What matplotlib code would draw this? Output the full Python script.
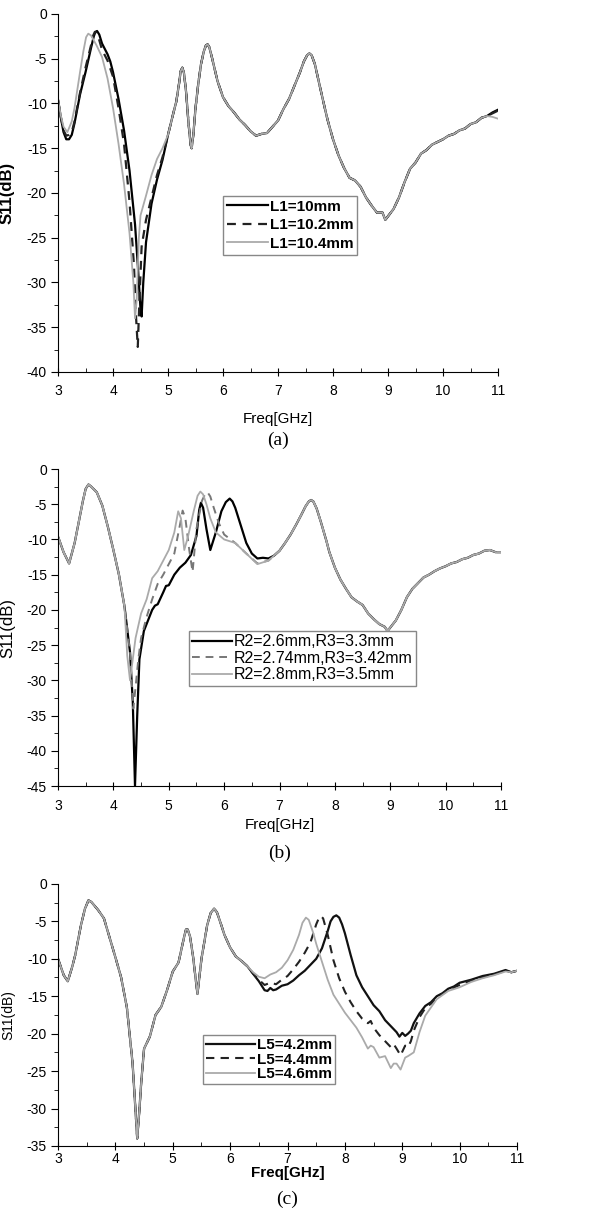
import matplotlib
matplotlib.use('Agg')
import matplotlib.pyplot as plt
from matplotlib.ticker import MultipleLocator

plt.rcParams['font.family'] = ['Liberation Sans', 'DejaVu Sans']
plt.rcParams['axes.unicode_minus'] = False

# ---------- (a) : L1 ----------
a_tail_f = [5.0, 5.1, 5.15, 5.2, 5.23, 5.26, 5.29, 5.33, 5.37, 5.41, 5.43, 5.46, 5.5, 5.55, 5.6, 5.65,
            5.69, 5.72, 5.75, 5.8, 5.85, 5.9, 6.0, 6.1, 6.2, 6.3, 6.4, 6.5, 6.6, 6.7, 6.8, 6.9,
            7.0, 7.1, 7.2, 7.3, 7.4, 7.47, 7.53, 7.57, 7.61, 7.67, 7.75, 7.85, 7.9, 8.0, 8.1, 8.2,
            8.3, 8.4, 8.5, 8.6, 8.7, 8.8, 8.9, 8.95, 9.0, 9.1, 9.2, 9.3, 9.4, 9.5, 9.6, 9.7,
            9.8, 9.9, 10.0, 10.1, 10.2, 10.3, 10.4, 10.5, 10.6, 10.7, 10.8]
a_tail_s = [-13.5, -11, -9.8, -7.8, -6.4, -6.0, -6.6, -8.8, -12, -14.6, -15, -13.5, -10.5, -7.8, -5.6, -4.2,
            -3.5, -3.4, -3.7, -4.9, -6.2, -7.5, -9.3, -10.3, -11, -11.8, -12.4, -13.1, -13.6, -13.4, -13.3, -12.6,
            -11.9, -10.6, -9.5, -8, -6.5, -5.3, -4.6, -4.4, -4.6, -5.6, -7.8, -10.5, -11.8, -14, -15.8, -17.2,
            -18.3, -18.6, -19.3, -20.5, -21.4, -22.2, -22.2, -23, -22.6, -21.8, -20.5, -18.8, -17.3, -16.6, -15.6, -15.2,
            -14.6, -14.3, -14, -13.6, -13.4, -13, -12.8, -12.3, -12.1, -11.6, -11.4]

a1_head_f = [3.0, 3.05, 3.1, 3.15, 3.2, 3.25, 3.3, 3.4, 3.5, 3.6, 3.65, 3.68, 3.71, 3.75, 3.8, 3.9,
             3.95, 4.0, 4.1, 4.2, 4.3, 4.4, 4.45, 4.5, 4.52, 4.55, 4.6, 4.7, 4.8, 4.9]
a1_head_s = [-9.6, -11.5, -13.2, -14.0, -14.0, -13.5, -12.2, -9, -6.5, -3.8, -2.5, -2.0, -1.9, -2.3, -3.3, -4.5,
             -5.3, -6.5, -9.5, -13, -17.5, -23.5, -28, -33, -33.8, -30, -25.5, -21.2, -18.5, -16.3]
a1_end_f = [10.9, 11.0]
a1_end_s = [-11.0, -10.7]

a2_head_f = [3.0, 3.05, 3.1, 3.15, 3.2, 3.25, 3.3, 3.4, 3.5, 3.6, 3.64, 3.67, 3.7, 3.74, 3.8, 3.9,
             4.0, 4.1, 4.2, 4.3, 4.38, 4.42, 4.45, 4.48, 4.52, 4.6, 4.7, 4.8, 4.9]
a2_head_s = [-9.6, -11.5, -13, -13.6, -13.5, -13.2, -12, -8.8, -6, -3.5, -2.4, -2.0, -2.1, -2.7, -4, -5.2,
             -7, -10.5, -14.5, -21, -28, -34, -37.2, -32, -26, -23, -20.5, -18, -16]
a2_end_f = [10.9, 11.0]
a2_end_s = [-11.1, -10.8]

a3_head_f = [3.0, 3.05, 3.1, 3.17, 3.25, 3.3, 3.4, 3.46, 3.51, 3.55, 3.6, 3.7, 3.8, 3.9, 4.0, 4.1,
             4.2, 4.3, 4.37, 4.4, 4.43, 4.47, 4.5, 4.6, 4.7, 4.8, 4.9]
a3_head_s = [-9.6, -11.3, -12.6, -13.2, -12, -10.5, -6.5, -4.2, -2.6, -2.2, -2.4, -3.5, -4.8, -7.2, -10.5, -14.5,
             -19, -24.5, -30, -34, -32, -25, -22.5, -20.3, -18, -16.2, -15]
a3_end_f = [10.9, 11.0]
a3_end_s = [-11.5, -11.7]

a_labels = ['L1=10mm', 'L1=10.2mm', 'L1=10.4mm']

# ---------- (b) : R2, R3 ----------
b_head_f = [3.0, 3.1, 3.2, 3.3, 3.4, 3.45, 3.5, 3.55, 3.6, 3.7, 3.8, 3.9, 4.0, 4.1, 4.2]
b_head_s = [-9.6, -11.8, -13.4, -10.5, -6.5, -4.5, -2.8, -2.2, -2.5, -3.3, -5.2, -8.2, -11.5, -15, -19.5]

b1_mid_f = [4.3, 4.35, 4.39, 4.43, 4.47, 4.5, 4.55, 4.6, 4.7, 4.75, 4.8, 4.9, 4.95, 5.0, 5.1, 5.2,
            5.3, 5.4, 5.5, 5.55, 5.58, 5.62, 5.68, 5.75, 5.85, 5.95, 6.03, 6.1, 6.15, 6.2, 6.3, 6.4,
            6.5, 6.6, 6.7, 6.8]
b1_mid_s = [-26, -33, -45, -35, -27, -25.5, -23, -22, -20, -19.4, -19.2, -17.5, -16.6, -16.5, -15, -14,
            -13.3, -12.2, -9.5, -5.8, -4.8, -5.5, -8.5, -11.5, -9, -6, -4.7, -4.2, -4.6, -5.5, -8, -10.5,
            -12, -12.7, -12.6, -12.7]

b2_mid_f = [4.3, 4.36, 4.4, 4.45, 4.5, 4.6, 4.7, 4.8, 4.9, 5.0, 5.1, 5.2, 5.25, 5.3, 5.37, 5.43,
            5.5, 5.6, 5.66, 5.7, 5.75, 5.8, 5.9, 6.0, 6.2, 6.4, 6.6, 6.8]
b2_mid_s = [-26, -34, -31, -27, -24, -21, -18.5, -16.3, -15, -13.5, -12, -8, -5.9, -7, -11.5, -14.6,
            -8.5, -4.5, -3.5, -3.3, -3.9, -5.2, -7.6, -9.3, -10.5, -12, -13.4, -13]

b3_mid_f = [4.25, 4.3, 4.35, 4.4, 4.5, 4.6, 4.7, 4.8, 4.9, 5.0, 5.1, 5.17, 5.22, 5.28, 5.35, 5.45,
            5.52, 5.57, 5.62, 5.68, 5.75, 5.85, 6.0, 6.2, 6.4, 6.6, 6.8]
b3_mid_s = [-26.5, -30, -27, -24, -20.5, -18.5, -15.5, -14.5, -13, -11.5, -9, -6.0, -7, -11.5, -9.5, -6,
            -3.8, -3.2, -3.6, -5.0, -7, -9, -10, -10.5, -12, -13.5, -13]

b_tail_f = [6.9, 7.0, 7.1, 7.2, 7.3, 7.4, 7.47, 7.53, 7.57, 7.61, 7.67, 7.75, 7.85, 7.9, 8.0, 8.1,
            8.2, 8.3, 8.4, 8.5, 8.6, 8.7, 8.8, 8.9, 8.95, 9.0, 9.1, 9.2, 9.3, 9.4, 9.5, 9.6,
            9.7, 9.8, 9.9, 10.0, 10.1, 10.2, 10.3, 10.4, 10.5, 10.6, 10.7, 10.8, 10.9, 11.0]
b_tail_s = [-12.3, -11.6, -10.5, -9.3, -7.9, -6.4, -5.3, -4.6, -4.4, -4.6, -5.6, -7.6, -10.3, -11.8, -14, -15.7,
            -17, -18.2, -18.8, -19.3, -20.5, -21.3, -22.0, -22.4, -23, -22.5, -21.5, -20, -18.2, -17, -16.2, -15.4,
            -15, -14.5, -14.1, -13.8, -13.4, -13.2, -12.8, -12.6, -12.2, -12.0, -11.6, -11.5, -11.8, -11.8]

b_labels = ['R2=2.6mm,R3=3.3mm', 'R2=2.74mm,R3=3.42mm', 'R2=2.8mm,R3=3.5mm']

# ---------- (c) : L5 ----------
c_head_f = [3.0, 3.1, 3.17, 3.25, 3.3, 3.4, 3.47, 3.53, 3.58, 3.7, 3.8, 3.9, 4.0, 4.1, 4.2, 4.3,
            4.34, 4.38, 4.42, 4.45, 4.5, 4.6, 4.7, 4.8, 4.9, 5.0, 5.1, 5.2, 5.23, 5.26, 5.3, 5.35,
            5.43, 5.5, 5.6, 5.66, 5.72, 5.77, 5.85, 5.9, 6.0, 6.1, 6.2]
c_head_s = [-10, -12.2, -13, -11, -9.5, -5.5, -3.3, -2.2, -2.4, -3.5, -4.6, -7.2, -9.8, -12.5, -16.5, -24,
            -29, -34, -30, -26.5, -22, -20.4, -17.5, -16.4, -14.2, -11.7, -10.5, -7, -6.1, -6.1, -7.0, -9.5,
            -14.7, -10, -5.5, -3.9, -3.3, -3.8, -5.6, -6.8, -8.5, -9.7, -10.3]

c1_tail_f = [6.3, 6.4, 6.5, 6.6, 6.65, 6.7, 6.75, 6.8, 6.9, 7.0, 7.1, 7.2, 7.3, 7.4, 7.5, 7.6,
             7.7, 7.75, 7.8, 7.85, 7.9, 7.95, 8.0, 8.1, 8.2, 8.3, 8.4, 8.5, 8.6, 8.7, 8.8, 8.9,
             8.95, 9.0, 9.05, 9.1, 9.15, 9.2, 9.3, 9.4, 9.5, 9.6, 9.7, 9.8, 9.9, 10.0, 10.2, 10.4,
             10.6, 10.8, 10.9, 11.0]
c1_tail_s = [-11, -12, -13, -14.2, -14.3, -13.9, -14.2, -14.1, -13.6, -13.4, -12.9, -12.2, -11.6, -10.8, -10, -8.6,
             -6.3, -5.0, -4.4, -4.2, -4.5, -5.4, -6.6, -9.5, -12.2, -13.8, -15, -16.2, -17, -18.2, -19, -19.8,
             -20.4, -19.9, -20.3, -20, -19.6, -18.6, -17.3, -16.3, -15.8, -15, -14.6, -14, -13.7, -13.2, -12.8, -12.3,
             -12, -11.5, -11.8, -11.6]

c2_tail_f = [6.3, 6.4, 6.5, 6.6, 6.7, 6.8, 6.9, 7.0, 7.1, 7.2, 7.3, 7.4, 7.45, 7.5, 7.55, 7.58,
             7.62, 7.7, 7.8, 7.9, 8.0, 8.1, 8.2, 8.3, 8.4, 8.45, 8.5, 8.6, 8.7, 8.8, 8.85, 8.9,
             8.97, 9.05, 9.1, 9.15, 9.2, 9.3, 9.4, 9.5, 9.6, 9.8, 10.0, 10.2, 10.4, 10.6, 10.8, 10.9,
             11.0]
c2_tail_s = [-11, -12, -12.8, -13.5, -13.2, -13.4, -12.8, -12.3, -11.4, -10.4, -9.2, -7.8, -6.6, -5.4, -4.5, -4.3,
             -4.6, -6.8, -10.2, -12.6, -14.4, -15.8, -17, -18, -18.6, -18.3, -19.2, -20.2, -21, -21.8, -21.4, -22,
             -22.9, -21.6, -21.8, -21, -19.6, -17.8, -16.6, -16, -15.2, -14.2, -13.5, -12.9, -12.5, -12.1, -11.6, -11.8,
             -11.6]

c3_tail_f = [6.3, 6.4, 6.5, 6.6, 6.7, 6.8, 6.9, 7.0, 7.1, 7.2, 7.26, 7.32, 7.37, 7.45, 7.5, 7.6,
             7.7, 7.8, 7.9, 8.0, 8.1, 8.2, 8.3, 8.4, 8.45, 8.5, 8.6, 8.7, 8.8, 8.85, 8.9, 8.97,
             9.05, 9.1, 9.2, 9.3, 9.4, 9.5, 9.6, 9.8, 10.0, 10.2, 10.4, 10.6, 10.8, 10.9, 11.0]
c3_tail_s = [-11, -11.8, -12.4, -12.6, -12.1, -11.8, -11.2, -10.2, -8.8, -6.8, -5.2, -4.5, -4.8, -6.6, -8, -10.4,
             -12.8, -14.8, -16, -17.2, -18.2, -19.2, -20.5, -22, -21.6, -21.8, -23.2, -23, -24.6, -24, -24, -24.8,
             -23.2, -23, -22.5, -19.8, -17.6, -16.5, -15.4, -14.3, -13.8, -13.1, -12.6, -12.2, -11.7, -11.8, -11.6]

c_labels = ['L5=4.2mm', 'L5=4.4mm', 'L5=4.6mm']


fig = plt.figure(figsize=(6.14, 12.16), dpi=100)

ax_a = fig.add_axes([0.0945, 0.6941, 0.7166, 0.2944])
ax_b = fig.add_axes([0.0945, 0.3536, 0.7215, 0.2607])
ax_c = fig.add_axes([0.0945, 0.0576, 0.7476, 0.2155])


def style(ax, ymin, xpad):
    ax.set_xlim(3, 11)
    ax.set_ylim(ymin, 0)
    ax.xaxis.set_major_locator(MultipleLocator(1))
    ax.xaxis.set_minor_locator(MultipleLocator(0.5))
    ax.yaxis.set_major_locator(MultipleLocator(5))
    ax.yaxis.set_minor_locator(MultipleLocator(2.5))
    ax.spines['top'].set_visible(False)
    ax.spines['right'].set_visible(False)
    ax.tick_params(axis='x', which='major', direction='inout', length=6, pad=xpad, labelsize=10)
    ax.tick_params(axis='x', which='minor', direction='in', length=3)
    ax.tick_params(axis='y', which='major', direction='out', length=5, pad=3, labelsize=10)
    ax.tick_params(axis='y', which='minor', direction='out', length=3)


def frame(leg):
    leg.get_frame().set_edgecolor('#888888')
    leg.get_frame().set_linewidth(1)


serif = ['Liberation Serif', 'DejaVu Serif']

# (a)
ax_a.plot(a1_head_f + a_tail_f + a1_end_f, a1_head_s + a_tail_s + a1_end_s, color='black', lw=1.6, label=a_labels[0])
ax_a.plot(a2_head_f + a_tail_f + a2_end_f, a2_head_s + a_tail_s + a2_end_s, color='#222222', lw=1.6, ls=(0, (4, 3)), label=a_labels[1])
ax_a.plot(a3_head_f + a_tail_f + a3_end_f, a3_head_s + a_tail_s + a3_end_s, color='#aaaaaa', lw=1.3, label=a_labels[2])
style(ax_a, -40, 6)
ax_a.set_ylabel('S11(dB)', fontsize=12, fontweight='bold')
ax_a.yaxis.set_label_coords(-0.098, 0.5)
ax_a.set_xlabel('Freq[GHz]', fontsize=11)
ax_a.xaxis.set_label_coords(0.5, -0.131)
ax_a.xaxis.label.set_va('center')
frame(ax_a.legend(loc='upper left', bbox_to_anchor=(0.375, 0.492), prop={'weight': 'bold', 'size': 11},
                  handlelength=2.7, handletextpad=0.1, labelspacing=0.3, borderpad=0.25,
                  borderaxespad=0, fancybox=False, framealpha=1))
fig.text(0.5 * (0.0945 * 2 + 0.7166), 1 - 440 / 1216, '(a)', ha='center', va='center', fontsize=14, family=serif)

# (b)
ax_b.plot(b_head_f + b1_mid_f + b_tail_f, b_head_s + b1_mid_s + b_tail_s, color='black', lw=1.6, label=b_labels[0])
ax_b.plot(b_head_f + b2_mid_f + b_tail_f, b_head_s + b2_mid_s + b_tail_s, color='#777777', lw=1.4, ls=(0, (4, 3)), label=b_labels[1])
ax_b.plot(b_head_f + b3_mid_f + b_tail_f, b_head_s + b3_mid_s + b_tail_s, color='#aaaaaa', lw=1.3, label=b_labels[2])
style(ax_b, -45, 6)
ax_b.set_ylabel('S11(dB)', fontsize=12)
ax_b.yaxis.set_label_coords(-0.097, 0.5)
ax_b.set_xlabel('Freq[GHz]', fontsize=11)
ax_b.xaxis.set_label_coords(0.5, -(825 - 786) / 317)
ax_b.xaxis.label.set_va('center')
frame(ax_b.legend(loc='upper left', bbox_to_anchor=(0.296, 0.489), fontsize=11.5,
                  handlelength=2.5, handletextpad=0.1, labelspacing=0.1, borderpad=0.2,
                  borderaxespad=0, fancybox=False, framealpha=1))
fig.text(0.5 * (0.0945 * 2 + 0.7215), 1 - 853 / 1216, '(b)', ha='center', va='center', fontsize=14, family=serif)

# (c)
ax_c.plot(c_head_f + c1_tail_f, c_head_s + c1_tail_s, color='#111111', lw=1.6, label=c_labels[0])
ax_c.plot(c_head_f + c2_tail_f, c_head_s + c2_tail_s, color='#222222', lw=1.5, ls=(0, (4, 3)), label=c_labels[1])
ax_c.plot(c_head_f + c3_tail_f, c_head_s + c3_tail_s, color='#aaaaaa', lw=1.3, label=c_labels[2])
style(ax_c, -35, 1.5)
ax_c.set_ylabel('S11(dB)', fontsize=10)
ax_c.yaxis.set_label_coords(-0.094, 0.5)
ax_c.set_xlabel('Freq[GHz]', fontsize=11, fontweight='bold')
ax_c.xaxis.set_label_coords(0.5, -(1173 - 1146) / 262)
ax_c.xaxis.label.set_va('center')
frame(ax_c.legend(loc='upper left', bbox_to_anchor=(0.316, 0.424), prop={'weight': 'bold', 'size': 11},
                  handlelength=3.2, handletextpad=0.1, labelspacing=0.05, borderpad=0.2,
                  borderaxespad=0, fancybox=False, framealpha=1))
fig.text(0.5 * (0.0945 * 2 + 0.7476), 1 - 1199 / 1216, '(c)', ha='center', va='center', fontsize=14, family=serif)

fig.savefig('out.png', dpi=100)
